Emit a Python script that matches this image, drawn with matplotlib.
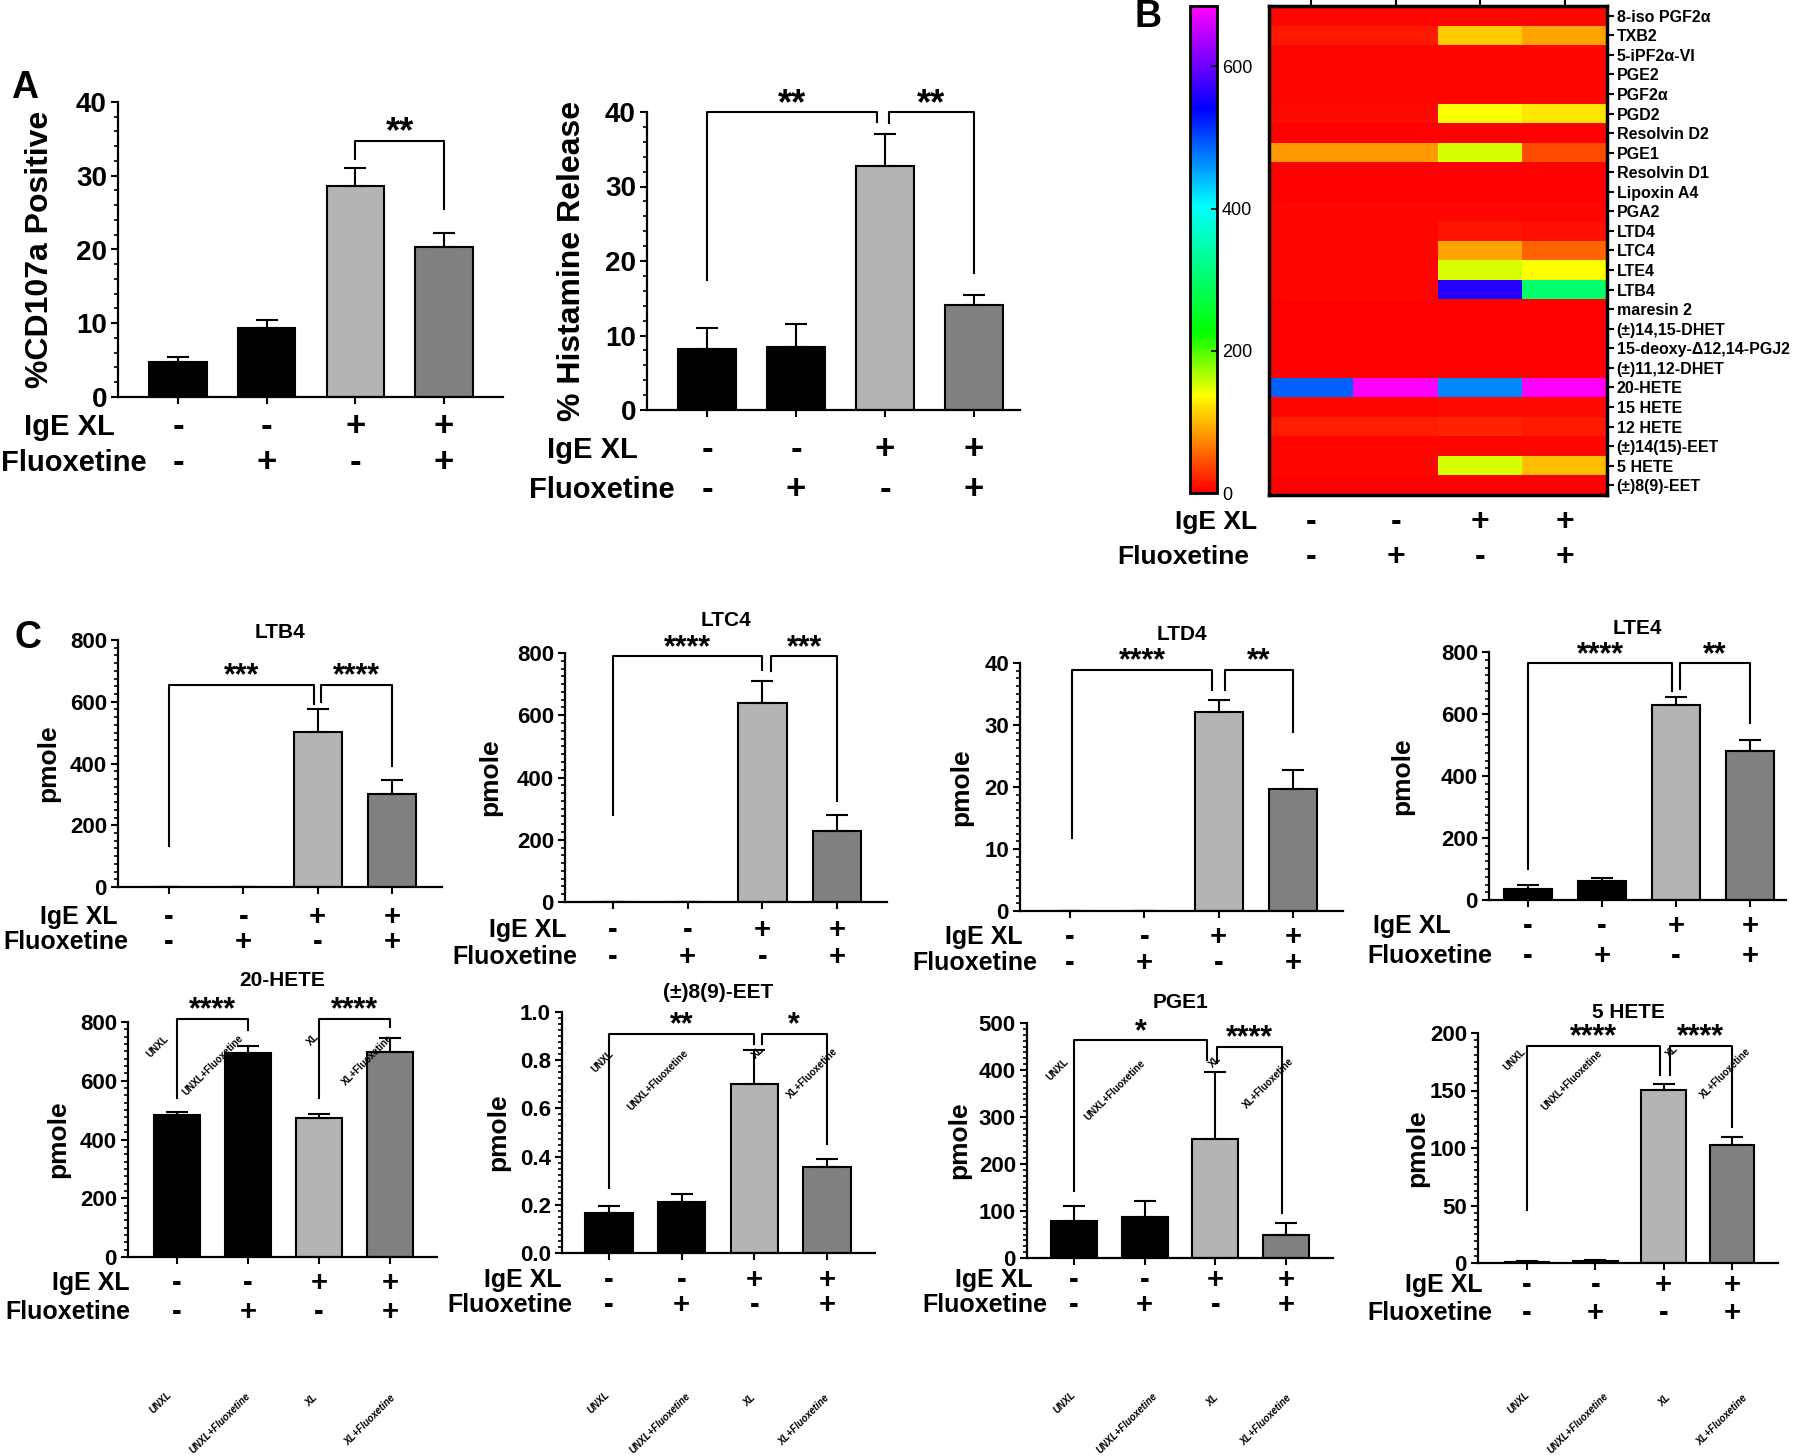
import numpy as np
import matplotlib
matplotlib.use("Agg")
import matplotlib.pyplot as plt
from matplotlib.colors import LinearSegmentedColormap
from matplotlib.ticker import AutoMinorLocator, FormatStrFormatter

plt.rcParams['font.family'] = ['Liberation Sans', 'DejaVu Sans']
plt.rcParams['font.weight'] = 'bold'

# ---- values ----
groups = ["UNXL", "UNXL+Fluoxetine", "XL", "XL+Fluoxetine"]
ige_xl = ["-", "-", "+", "+"]
fluoxetine = ["-", "+", "-", "+"]
bar_colors = ["black", "black", "#b4b4b4", "#808080"]

cd107a_mean = [4.7, 9.4, 28.6, 20.3]
cd107a_sem = [0.7, 1.1, 2.5, 2.0]
histamine_mean = [8.2, 8.5, 32.8, 14.1]
histamine_sem = [2.8, 3.1, 4.3, 1.3]

ltb4_mean = [0, 0, 503, 300]
ltb4_sem = [0, 0, 73, 46]
ltc4_mean = [0, 0, 639, 227]
ltc4_sem = [0, 0, 72, 53]
ltd4_mean = [0, 0, 32.1, 19.7]
ltd4_sem = [0, 0, 1.9, 3.0]
lte4_mean = [35, 60, 630, 480]
lte4_sem = [12, 12, 25, 35]
hete20_mean = [483, 695, 474, 698]
hete20_sem = [9, 23, 14, 47]
eet89_mean = [0.166, 0.210, 0.703, 0.355]
eet89_sem = [0.030, 0.035, 0.141, 0.036]
pge1_mean = [78, 87, 253, 49]
pge1_sem = [32, 34, 143, 25]
hete5_mean = [1.0, 1.5, 150.6, 102.6]
hete5_sem = [0.7, 0.8, 4.9, 6.7]

# significance brackets: (x left, x right, top, left leg end, right leg end, stars)
cd107a_brackets = [(2, 3, 34.75, 32.3, 25.5, "**")]
histamine_brackets = [(0, 1.91, 40.0, 17.4, 38.6, "**"), (2.04, 3, 40.0, 38.5, 18.4, "**")]
ltb4_brackets = [(0, 1.95, 654, 132, 592, "***"), (2.05, 3, 654, 598, 392, "****")]
ltc4_brackets = [(0, 2.0, 789, 281, 744, "****"), (2.12, 3, 789, 741, 323, "***")]
ltd4_brackets = [(0.03, 1.91, 38.9, 11.7, 35.6, "****"), (2.09, 3, 38.9, 35.7, 28.8, "**")]
lte4_brackets = [(0, 1.95, 763, 100, 674, "****"), (2.05, 3, 763, 681, 570, "**")]
hete20_brackets = [(0, 1, 809, 540, 772, "****"), (2, 3, 809, 540, 783, "****")]
eet89_brackets = [(0, 1.99, 0.91, 0.27, 0.867, "**"), (2.1, 3, 0.91, 0.867, 0.452, "*")]
pge1_brackets = [(0, 1.88, 463, 142, 422, "*"), (2.02, 2.94, 450, 415, 96, "****")]
hete5_brackets = [(0, 1.95, 189, 46, 163.7, "****"), (2.09, 3, 189, 163.7, 118.6, "****")]

heat_rows = ["8-iso PGF2α", "TXB2", "5-iPF2α-VI", "PGE2", "PGF2α", "PGD2", "Resolvin D2",
             "PGE1", "Resolvin D1", "Lipoxin A4", "PGA2", "LTD4", "LTC4", "LTE4", "LTB4",
             "maresin 2", "(±)14,15-DHET", "15-deoxy-Δ12,14-PGJ2", "(±)11,12-DHET",
             "20-HETE", "15 HETE", "12 HETE", "(±)14(15)-EET", "5 HETE", "(±)8(9)-EET"]
heat_vals = [[3, 3, 3, 3], [14, 14, 112, 89], [3, 3, 3, 3], [3, 3, 3, 3], [3, 3, 3, 3],
             [8, 8, 137, 124], [2, 2, 2, 2], [84, 84, 152, 41], [2, 2, 2, 2], [2, 2, 2, 2],
             [3, 3, 3, 3], [3, 3, 12, 10], [3, 3, 89, 55], [3, 3, 150, 137], [3, 3, 560, 300],
             [2, 2, 2, 2], [2, 2, 2, 2], [2, 2, 2, 2], [2, 2, 2, 2], [487, 690, 466, 690],
             [5, 5, 8, 8], [18, 18, 20, 16], [3, 3, 3, 3], [3, 3, 150, 103], [1, 1, 1, 1]]
heat_max = 685

W, H = 1800, 1456
fig = plt.figure(figsize=(18, 14.56), dpi=100)
PT = 0.72  # points per pixel at 100 dpi


def px_axes(left, top, right, bottom):
    return fig.add_axes([left / W, 1 - bottom / H, (right - left) / W, (bottom - top) / H])


def group_text(pos, italic=False):
    for name, (px, py) in zip(groups, pos):
        fig.text(px / W, 1 - py / H, name, rotation=45, ha="center", va="center",
                 fontsize=7, fontweight="bold", style="italic" if italic else "normal")


def bar_panel(box, centers, mean, sem, ymax, ystep, minor, brackets, ylabel="pmole",
              ylab_x=None, title=None, title_y=None, rows=(30, 55), lab_dx=(0, 10),
              big=False, fmt=None, inner=None):
    left, top, right, bottom = box
    c0, c3 = centers
    s = (c3 - c0) / 3
    ax = px_axes(*box)
    x = np.arange(4)
    fs_tick, fs_ylab, fs_row, fs_sign, fs_star = (20, 23, 21, 25, 26) if big else (16, 19, 18, 21, 22)
    ax.bar(x, mean, width=0.65, color=bar_colors, edgecolor="black", linewidth=1.5, zorder=2)
    ax.errorbar(x, mean, yerr=[np.zeros(4), sem], fmt="none", ecolor="black",
                elinewidth=1.5, capsize=8, capthick=1.5, zorder=3)
    ax.set_xlim((left - c0) / s, (right - c0) / s)
    ax.set_ylim(0, ymax)
    for sp in ["top", "right"]:
        ax.spines[sp].set_visible(False)
    for sp in ["left", "bottom"]:
        ax.spines[sp].set_linewidth(1.6)
    ax.set_xticks(x)
    ax.set_xticklabels([])
    ax.set_yticks(np.arange(0, ymax + ystep / 2, ystep))
    if fmt:
        ax.yaxis.set_major_formatter(FormatStrFormatter(fmt))
    ax.yaxis.set_minor_locator(AutoMinorLocator(minor))
    ax.tick_params(axis="both", which="major", length=5, width=1.5, labelsize=fs_tick, pad=3)
    ax.tick_params(axis="y", which="minor", length=3, width=1.2)
    for t in ax.get_yticklabels():
        t.set_fontweight("bold")
    ax.set_ylabel(ylabel, fontsize=fs_ylab, fontweight="bold")
    ax.yaxis.set_label_coords((ylab_x - left) / (right - left), 0.5)
    # treatment rows under the axis
    for i in range(4):
        ax.annotate(ige_xl[i], xy=(i, 0), xycoords=("data", "axes fraction"),
                    xytext=(0, -rows[0] * PT), textcoords="offset points",
                    ha="center", va="center", fontsize=fs_sign, fontweight="bold")
        ax.annotate(fluoxetine[i], xy=(i, 0), xycoords=("data", "axes fraction"),
                    xytext=(0, -rows[1] * PT), textcoords="offset points",
                    ha="center", va="center", fontsize=fs_sign, fontweight="bold")
    ax.annotate("IgE XL", xy=(0, 0), xycoords="axes fraction", xytext=(lab_dx[0] * PT, -rows[0] * PT),
                textcoords="offset points", ha="right", va="center", fontsize=fs_row, fontweight="bold")
    ax.annotate("Fluoxetine", xy=(0, 0), xycoords="axes fraction", xytext=(lab_dx[1] * PT, -rows[1] * PT),
                textcoords="offset points", ha="right", va="center", fontsize=fs_row, fontweight="bold")
    # brackets
    for xa, xb, yt, ya, yb, stars in brackets:
        ax.plot([xa, xa, xb, xb], [ya, yt, yt, yb], color="black", lw=1.5, clip_on=False, zorder=4)
        ax.annotate(stars, xy=((xa + xb) / 2, yt), xytext=(0, 7 - (0.43 * fs_star - 2.9)),
                    textcoords="offset points", ha="center", va="baseline",
                    fontsize=fs_star, fontweight="bold", annotation_clip=False)
    if title:
        ax.annotate(title, xy=(0.5, 1), xycoords="axes fraction", xytext=(0, (top - title_y) * PT),
                    textcoords="offset points", ha="center", va="center", fontsize=15, fontweight="bold")
    if inner:
        group_text(inner)
    return ax


# ---- panel A ----
bar_panel((118, 102, 503, 397), (178, 444), cd107a_mean, cd107a_sem, 40, 10, 5, cd107a_brackets,
          ylabel="%CD107a Positive", ylab_x=55, rows=(30, 66), lab_dx=(-3, 29), big=True)
bar_panel((647, 112, 1020, 410), (707, 974), histamine_mean, histamine_sem, 40, 10, 5, histamine_brackets,
          ylabel="% Histamine Release", ylab_x=587, rows=(40, 80), lab_dx=(-9, 28), big=True)
fig.text(25 / W, 1 - 88 / H, "A", fontsize=27, fontweight="bold", ha="center", va="center")

# ---- panel B heatmap ----
colors = [(0.0, (1, 0, 0)), (0.1, (1, 0.5, 0)), (0.2, (1, 1, 0)), (0.33, (0, 1, 0)),
          (0.59, (0, 1, 1)), (0.79, (0, 0, 1)), (1.0, (1, 0, 1))]
cmap = LinearSegmentedColormap.from_list("rainbow_pp", colors)
hax = px_axes(1269, 6, 1607, 495)
im = hax.imshow(np.array(heat_vals), cmap=cmap, vmin=0, vmax=heat_max, aspect="auto",
                interpolation="nearest")
hax.set_yticks(range(len(heat_rows)))
hax.set_yticklabels(heat_rows, fontsize=11.5, fontweight="bold")
hax.yaxis.tick_right()
hax.set_xticks(range(4))
hax.xaxis.tick_top()
hax.set_xticklabels([])
hax.tick_params(length=5, width=1.5, pad=2)
for sp in hax.spines.values():
    sp.set_linewidth(2.5)
for i in range(4):
    hax.annotate(ige_xl[i], xy=(i, 0), xycoords=("data", "axes fraction"), xytext=(0, -27 * PT),
                 textcoords="offset points", ha="center", va="center", fontsize=23, fontweight="bold")
    hax.annotate(fluoxetine[i], xy=(i, 0), xycoords=("data", "axes fraction"), xytext=(0, -62 * PT),
                 textcoords="offset points", ha="center", va="center", fontsize=23, fontweight="bold")
cax = px_axes(1190, 6, 1217, 493)
cb = fig.colorbar(im, cax=cax, ticks=[0, 200, 400, 600])
cb.outline.set_linewidth(2)
cb.ax.tick_params(labelsize=13, direction="in", length=4, width=1.2)
for t in cb.ax.get_yticklabels():
    t.set_fontweight("normal")
fig.text(1148 / W, 1 - 17 / H, "B", fontsize=27, fontweight="bold", ha="center", va="center")
fig.text(1257 / W, 1 - 522 / H, "IgE XL", fontsize=19, fontweight="bold", ha="right", va="center")
fig.text(1249 / W, 1 - 557 / H, "Fluoxetine", fontsize=19, fontweight="bold", ha="right", va="center")

# ---- panel C ----
bar_panel((118, 640, 442, 887), (169, 392), ltb4_mean, ltb4_sem, 800, 200, 8, ltb4_brackets,
          ylab_x=60, title="LTB4", title_y=633, rows=(30, 55), lab_dx=(0, 10))
bar_panel((565, 653, 887, 902), (613, 837), ltc4_mean, ltc4_sem, 800, 200, 8, ltc4_brackets,
          ylab_x=502, title="LTC4", title_y=620, rows=(28, 55), lab_dx=(2, 12))
bar_panel((1020, 663, 1343, 911), (1070, 1293), ltd4_mean, ltd4_sem, 40, 10, 8, ltd4_brackets,
          ylab_x=973, title="LTD4", title_y=635, rows=(26, 52), lab_dx=(3, 17))
bar_panel((1489, 652, 1786, 900), (1528, 1750), lte4_mean, lte4_sem, 800, 200, 8, lte4_brackets,
          ylab_x=1414, title="LTE4", title_y=629, rows=(26, 56), lab_dx=(-38, 3))
bar_panel((128, 1022, 437, 1257), (177, 390), hete20_mean, hete20_sem, 800, 200, 8, hete20_brackets,
          ylab_x=70, title="20-HETE", title_y=980, rows=(26, 55), lab_dx=(2, 2),
          inner=[(158, 1047), (213, 1065), (313, 1040), (367, 1060)])
bar_panel((562, 1012, 875, 1253), (609, 827), eet89_mean, eet89_sem, 1.0, 0.2, 8, eet89_brackets,
          ylab_x=510, title="(±)8(9)-EET", title_y=992, rows=(27, 52), lab_dx=(0, 10), fmt="%.1f",
          inner=[(603, 1062), (658, 1080), (758, 1053), (812, 1073)])
bar_panel((1027, 1023, 1333, 1258), (1074, 1286), pge1_mean, pge1_sem, 500, 100, 8, pge1_brackets,
          ylab_x=971, title="PGE1", title_y=1002, rows=(22, 47), lab_dx=(6, 20),
          inner=[(1058, 1070), (1115, 1090), (1215, 1062), (1268, 1083)])
bar_panel((1478, 1033, 1778, 1263), (1527, 1732), hete5_mean, hete5_sem, 200, 50, 8, hete5_brackets,
          ylab_x=1429, title="5 HETE", title_y=1012, rows=(22, 50), lab_dx=(5, 14),
          inner=[(1515, 1060), (1572, 1080), (1672, 1052), (1725, 1073)])
fig.text(28 / W, 1 - 638 / H, "C", fontsize=27, fontweight="bold", ha="center", va="center")

# stray group labels along the bottom edge
bottom_labels = [[(161, 1403), (220, 1423), (312, 1400), (370, 1420)],
                 [(599, 1403), (660, 1423), (750, 1400), (804, 1420)],
                 [(1065, 1403), (1127, 1423), (1213, 1400), (1266, 1420)],
                 [(1519, 1403), (1578, 1423), (1665, 1400), (1722, 1420)]]
for pos in bottom_labels:
    group_text(pos, italic=True)

fig.savefig("out.png", dpi=100, facecolor="white")
